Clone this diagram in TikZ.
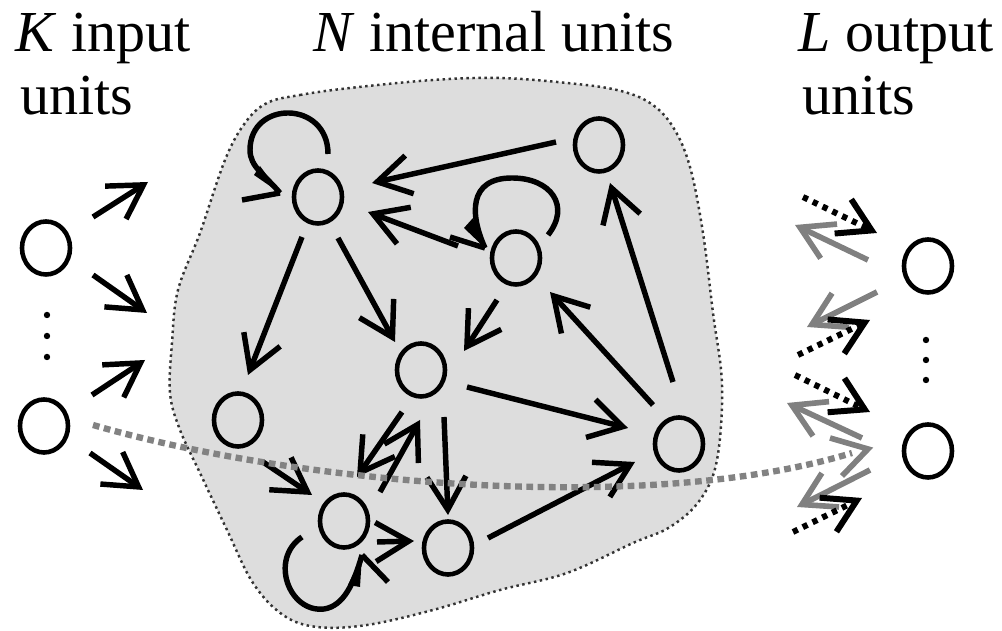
\documentclass[tikz,border=0pt]{standalone}
\usepackage{fontspec}
\setmainfont{Liberation Serif}
\usetikzlibrary{arrows.meta,calc,shapes.geometric}
\definecolor{blobfill}{RGB}{221,221,221}
\definecolor{curvegray}{RGB}{130,130,130}
\definecolor{arrgray}{RGB}{128,128,128}
\begin{document}
\begin{tikzpicture}[x=0.01cm,y=-0.01cm,
  unit/.style={draw=black, line width=1.3pt, ellipse, minimum width=0.48cm, minimum height=0.53cm, inner sep=0pt},
  conn/.style={line width=1.55pt, -{Straight Barb[length=3.3mm,width=3.9mm]}},
  loopline/.style={line width=1.55pt, line cap=butt},
  outdot/.style={line width=1.7pt, dash pattern=on 1.5pt off 1.6pt, -{Straight Barb[length=3.2mm,width=3.8mm]}},
  outgray/.style={line width=1.6pt, draw=arrgray, -{Straight Barb[length=3.2mm,width=3.8mm]}},
  blob/.style={draw=black!80, line width=0.7pt, densely dotted, fill=blobfill},
  trace/.style={draw=curvegray, line width=1.8pt, dash pattern=on 1.9pt off 1.3pt},
  lbl/.style={font=\fontsize{16.5}{20}\selectfont, anchor=base west, inner sep=0pt},
  dotmark/.style={fill=black}
]
\useasboundingbox (0,0) rectangle (1002,631);

% reservoir
\path[blob] plot[smooth cycle, tension=0.6] coordinates {(267,103) (300,95) (350,88) (433,80) (500,78) (567,83) (617,90) (650,103) (673,127) (690,167) (703,233) (713,313) (722,385) (717,460) (700,500) (670,527) (633,543) (567,573) (500,590) (433,610) (367,625) (317,627) (283,615) (253,583) (227,530) (200,473) (180,430) (170,393) (172,343) (178,290) (200,233) (225,160) (245,123)};

% labels
\node[lbl] (tK) at (15,52) {\textit{K} input};
\node[lbl] (tK2) at (20,115) {units};
\node[lbl] (tN) at (313,52) {\textit{N} internal units};
\node[lbl] (tL) at (798,52) {\textit{L} output};
\node[lbl] (tL2) at (802,115) {units};

% units
\node[unit] (I1) at (46,248) {};
\node[unit] (I2) at (44,426) {};
\node[unit] (A) at (318,197) {};
\node[unit] (B) at (599,145) {};
\node[unit] (C) at (516,258) {};
\node[unit] (D) at (421,370) {};
\node[unit] (E) at (238,420) {};
\node[unit] (F) at (344,521) {};
\node[unit] (G) at (448,548) {};
\node[unit] (H) at (679,444) {};
\node[unit] (O1) at (928,266) {};
\node[unit] (O2) at (928,451) {};

% dots
\foreach \yy in {315,336,357} \fill[dotmark] (47,\yy) circle (3.2);
\foreach \yy in {340,360,380} \fill[dotmark] (926,\yy) circle (3.2);

% input arrows
\draw[conn] ($(I1)+(47,-31)$) -- ($(I1)+(102,-66)$);
\draw[conn] ($(I1)+(47,27)$) -- ($(I1)+(101,65)$);
\draw[conn] ($(I2)+(48,-31)$) -- ($(I2)+(101,-66)$);
\draw[conn] ($(I2)+(46,27)$) -- ($(I2)+(99,64)$);

% internal connections
\draw[conn] ($(B)+(-43,-3)$) -- ($(A)+(54,-14)$);
\draw[conn] ($(C)+(-58,-12)$) -- ($(A)+(50,15)$);
\draw[conn] ($(A)+(-16,40)$) -- ($(E)+(10,-45)$);
\draw[conn] ($(A)+(20,41)$) -- ($(D)+(-26,-28)$);
\draw[conn] ($(C)+(-19,42)$) -- ($(D)+(43,-19)$);
\draw[conn] ($(H)+(-26,-39)$) -- ($(C)+(34,34)$);
\draw[conn] ($(H)+(-6,-62)$) -- ($(B)+(11,38)$);
\draw[conn] ($(D)+(46,17)$) -- ($(H)+(-51,-16)$);
\draw[conn] ($(G)+(40,-10)$) -- ($(H)+(-44,18)$);
\draw[conn] ($(D)+(23,47)$) -- ($(G)+(0,-33)$);
\draw[conn] ($(D)+(-19,42)$) -- ($(F)+(13,-44)$);
\draw[conn] ($(F)+(36,-29)$) -- ($(D)+(-1,50)$);
\draw[conn] ($(F)+(33,21)$) -- ($(G)+(-34,-7)$);
\draw[conn] ($(E)+(25,42)$) -- ($(F)+(-32,-26)$);

% self loops
% A
\draw[loopline] ($(A)+(10,-43)$) .. controls ($(A)+(10,-97)$) and ($(A)+(-68,-97)$) .. ($(A)+(-68,-47)$)
  .. controls ($(A)+(-68,-30)$) and ($(A)+(-53,-22)$) .. ($(A)+(-38,-4)$);
\draw[loopline] ($(A)+(-76,3)$) -- ($(A)+(-38,-4)$);
\fill ($(A)+(-38,-4)$) -- ($(A)+(-58,-31)$) -- ($(A)+(-64,-22)$) -- cycle;
% C
\draw[loopline] ($(C)+(32,-23)$) .. controls ($(C)+(55,-52)$) and ($(C)+(35,-80)$) .. ($(C)+(-4,-80)$)
  .. controls ($(C)+(-48,-80)$) and ($(C)+(-46,-43)$) .. ($(C)+(-31,-10)$);
\draw[loopline] ($(C)+(-66,-21)$) -- ($(C)+(-31,-10)$);
\fill ($(C)+(-31,-10)$) -- ($(C)+(-43,-40)$) -- ($(C)+(-52,-30)$) -- cycle;
% F
\draw[loopline] ($(F)+(-42,16)$) .. controls ($(F)+(-75,38)$) and ($(F)+(-55,92)$) .. ($(F)+(-20,88)$)
  .. controls ($(F)+(0,85)$) and ($(F)+(10,62)$) .. ($(F)+(18,34)$);
\draw[loopline] ($(F)+(44,61)$) -- ($(F)+(18,34)$);
\fill ($(F)+(18,34)$) -- ($(F)+(4,64)$) -- ($(F)+(16,66)$) -- cycle;

% trace curve
\coordinate (Z1) at ($(O2)+(-98,-13)$);
\coordinate (Z2) at ($(O2)+(-60,-2)$);
\coordinate (Z3) at ($(O2)+(-86,25)$);
\draw[trace] ($(I2)+(49,-1)$) .. controls (300,485) and (650,515) .. ($(O2)+(-76,2)$);
\draw[line width=1.6pt, draw=arrgray] (Z1) -- (Z2) -- (Z3);

% output arrows
\draw[outgray] ($(O1)+(-60,-6)$) -- ($(O1)+(-133,-41)$);
\draw[outdot] ($(O1)+(-125,-69)$) -- ($(O1)+(-51,-33)$);
\draw[outgray] ($(O1)+(-51,26)$) -- ($(O1)+(-121,61)$);
\draw[outdot] ($(O1)+(-130,89)$) -- ($(O1)+(-58,54)$);
\draw[outdot] ($(O2)+(-133,-76)$) -- ($(O2)+(-58,-39)$);
\draw[outgray] ($(O2)+(-66,-13)$) -- ($(O2)+(-141,-48)$);
\draw[outgray] ($(O2)+(-58,19)$) -- ($(O2)+(-131,56)$);
\draw[outdot] ($(O2)+(-135,81)$) -- ($(O2)+(-66,47)$);
\end{tikzpicture}
\end{document}
